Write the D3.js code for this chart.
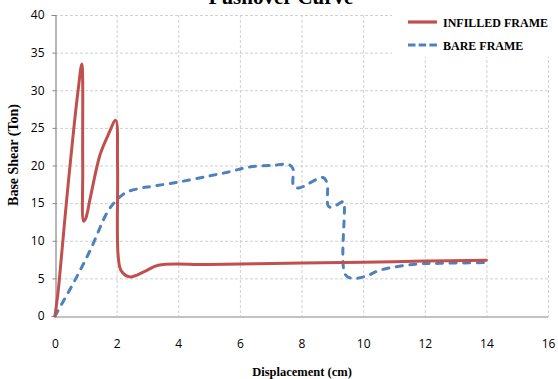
<!DOCTYPE html>
<html>
<head>
<meta charset="utf-8">
<script src="https://cdn.jsdelivr.net/npm/d3@7"></script>
<style>
  html, body { margin: 0; padding: 0; background: #fff; }
  svg { display: block; }
</style>
</head>
<body>
<svg id="chart" width="558" height="379"></svg>
<script>
// ---- data ----
const xTicks = [0, 2, 4, 6, 8, 10, 12, 14, 16];
const yTicks = [0, 5, 10, 15, 20, 25, 30, 35, 40];

const infilledX = [0, 0.1, 0.2, 0.3, 0.45, 0.6, 0.75, 0.87, 0.9, 0.93, 1.0, 1.14, 1.46, 1.73, 1.97, 2.03, 2.05, 2.15, 2.43, 2.9, 3.35, 5, 8, 10, 12, 14];
const infilledY = [0, 3.2, 7.5, 12, 18.5, 24.5, 30, 33.5, 20, 12.6, 13.0, 15.6, 21.4, 24.1, 26, 20, 8, 6.0, 5.2, 5.9, 6.75, 6.85, 7.05, 7.15, 7.3, 7.4];

const bareX = [0, 0.6, 1.15, 1.7, 2.0, 2.3, 2.8, 3.1, 4.0, 5.0, 5.7, 6.3, 7.0, 7.6, 7.72, 7.74, 7.9, 8.7, 8.83, 8.87, 9.0, 9.36, 9.39, 9.41, 9.63, 10.1, 10.55, 11.74, 12.5, 14.0];
const bareY = [0, 4.4, 8.8, 13.8, 15.4, 16.4, 17.0, 17.2, 17.8, 18.6, 19.2, 19.8, 20.0, 20.1, 19.6, 17.3, 17.0, 18.4, 17.6, 14.6, 14.45, 15.2, 14.6, 5.6, 5.0, 5.3, 6.1, 6.9, 7.0, 7.1];

const seriesNames = ["INFILLED FRAME", "BARE FRAME"];
const seriesColors = ["#C0504D", "#4F81BD"];

// ---- layout ----
const svg = d3.select("#chart");
const L = 55, R = 548, T = 15, B = 316;

const x = d3.scaleLinear().domain([0, 16]).range([L, R]);
const y = d3.scaleLinear().domain([0, 40]).range([B, T]);

// gridlines
const grid = svg.append("g");
grid.selectAll("line.h").data(yTicks.filter(d => d > 0)).enter().append("line")
  .attr("x1", L).attr("x2", R)
  .attr("y1", d => y(d) + 0.5).attr("y2", d => y(d) + 0.5)
  .attr("stroke", "#D0D0D0").attr("stroke-width", 1).attr("stroke-dasharray", "3,2");
grid.selectAll("line.v").data(xTicks.filter(d => d > 0)).enter().append("line")
  .attr("y1", T).attr("y2", B)
  .attr("x1", d => x(d) + 0.5).attr("x2", d => x(d) + 0.5)
  .attr("stroke", "#D0D0D0").attr("stroke-width", 1).attr("stroke-dasharray", "3,2");

// axes
const xAxis = d3.axisBottom(x).tickValues(xTicks).tickSize(0).tickPadding(23).tickFormat(d3.format("d"));
const yAxis = d3.axisLeft(y).tickValues(yTicks).tickSize(4).tickPadding(7).tickFormat(d3.format("d"));

const gx = svg.append("g").attr("transform", `translate(0,${B + 0.5})`).call(xAxis);
const gy = svg.append("g").attr("transform", `translate(${L + 0.5},0)`).call(yAxis);
[gx, gy].forEach(g => {
  g.select(".domain").attr("stroke", "#868686").attr("stroke-width", 1.2);
  g.selectAll(".tick line").attr("stroke", "#868686");
  g.selectAll(".tick text").attr("fill", "#000").style("font-family", "'Open Sans', sans-serif").style("font-size", "12px");
});
gy.selectAll(".tick line").attr("x2", -3);

// title (cut off at top, as in the reference)
svg.append("text").attr("x", 281).attr("y", 4).attr("text-anchor", "middle")
  .style("font-family", "'Liberation Serif', serif").style("font-size", "21px").style("font-weight", "bold")
  .text("Pushover Curve");

// axis titles
svg.append("text").attr("x", 302).attr("y", 376).attr("text-anchor", "middle")
  .style("font-family", "'Liberation Serif', serif").style("font-size", "12.5px").style("font-weight", "bold")
  .text("Displacement (cm)");
svg.append("text").attr("transform", "translate(18,155) rotate(-90)").attr("text-anchor", "middle")
  .style("font-family", "'Liberation Serif', serif").style("font-size", "14px").style("font-weight", "bold")
  .text("Base Shear (Ton)");

// lines
const line = d3.line().x(d => x(d[0])).y(d => y(d[1])).curve(d3.curveCatmullRom.alpha(0.5));
const infilled = infilledX.map((v, i) => [v, infilledY[i]]);
const bare = bareX.map((v, i) => [v, bareY[i]]);

svg.append("path").datum(bare).attr("d", line)
  .attr("fill", "none").attr("stroke", seriesColors[1]).attr("stroke-width", 3)
  .attr("stroke-linecap", "round").attr("stroke-dasharray", "6,7.5");
svg.append("path").datum(infilled).attr("d", line)
  .attr("fill", "none").attr("stroke", seriesColors[0]).attr("stroke-width", 3)
  .attr("stroke-linecap", "round");

// legend
const lg = svg.append("g");
lg.append("rect").attr("x", 392).attr("y", 7).attr("width", 166).attr("height", 50).attr("fill", "#fff");
const ly = [22, 45];
seriesNames.forEach((name, i) => {
  const l = lg.append("line").attr("x1", 408).attr("x2", 437).attr("y1", ly[i]).attr("y2", ly[i])
    .attr("stroke", seriesColors[i]).attr("stroke-width", 3.2);
  if (i === 1) l.attr("stroke-dasharray", "7.5,3.2");
  lg.append("text").attr("x", 443).attr("y", ly[i] + 4.5)
    .style("font-family", "'Liberation Serif', serif").style("font-size", "12px").style("font-weight", "bold")
    .text(name);
});
</script>
</body>
</html>
